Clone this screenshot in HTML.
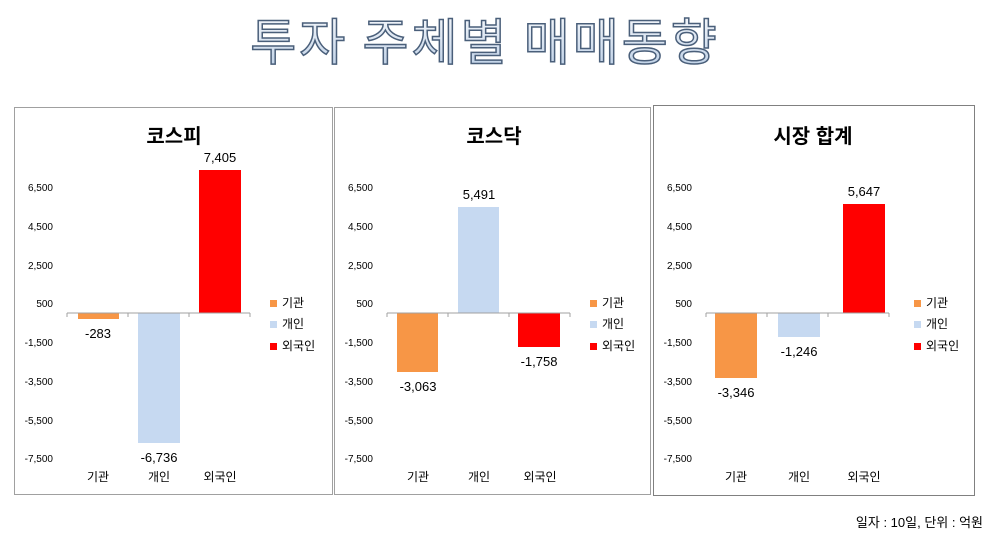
<!DOCTYPE html>
<html><head><meta charset="utf-8"><style>
body{margin:0;width:1000px;height:535px;background:#fff;overflow:hidden;font-family:"Liberation Sans","Noto Sans CJK KR",sans-serif}
</style></head><body>
<svg width="1000" height="535" xmlns="http://www.w3.org/2000/svg" font-family="'Liberation Sans','Noto Sans CJK KR',sans-serif">
<defs><linearGradient id="g" x1="0" y1="0" x2="0" y2="1"><stop offset="0" stop-color="#ffffff"/><stop offset="1" stop-color="#b8cce4"/></linearGradient></defs>
<text x="485" y="60" text-anchor="middle" font-size="50" font-family="'Noto Sans CJK KR',sans-serif" fill="url(#g)" stroke="#4a5f7a" stroke-width="1.5" letter-spacing="3">투자 주체별 매매동향</text>
<g id="p1">
<rect x="14.5" y="107.5" width="318" height="387" fill="none" stroke="#a0a0a0"/>
<text x="174" y="143" text-anchor="middle" font-size="20" font-weight="bold">코스피</text>
<g font-size="10" text-anchor="end" fill="#000">
<text x="53" y="191">6,500</text><text x="53" y="230">4,500</text><text x="53" y="269">2,500</text><text x="53" y="307">500</text><text x="53" y="346">-1,500</text><text x="53" y="385">-3,500</text><text x="53" y="424">-5,500</text><text x="53" y="462">-7,500</text></g>
<rect x="78" y="313" width="41" height="6" fill="#f79646"/>
<rect x="138" y="313" width="42" height="130" fill="#c6d9f1"/>
<rect x="199" y="170" width="42" height="143" fill="#ff0000"/>
<path d="M67 313H250M67 313v4M128 313v4M189 313v4M250 313v4" stroke="#a0a0a0" fill="none"/>
<g font-size="13" text-anchor="middle"><text x="98" y="338">-283</text><text x="159" y="462">-6,736</text><text x="220" y="162">7,405</text></g>
<g font-size="12" text-anchor="middle"><text x="98" y="481">기관</text><text x="159" y="481">개인</text><text x="220" y="481">외국인</text></g>
<g font-size="12"><rect x="270" y="300" width="7" height="7" fill="#f79646"/><text x="282" y="307">기관</text>
<rect x="270" y="321" width="7" height="7" fill="#c6d9f1"/><text x="282" y="328">개인</text>
<rect x="270" y="343" width="7" height="7" fill="#ff0000"/><text x="282" y="350">외국인</text></g>
</g>
<g transform="translate(320,0)">
<rect x="14.5" y="107.5" width="316" height="387" fill="none" stroke="#a0a0a0"/>
<text x="174" y="143" text-anchor="middle" font-size="20" font-weight="bold">코스닥</text>
<g font-size="10" text-anchor="end">
<text x="53" y="191">6,500</text><text x="53" y="230">4,500</text><text x="53" y="269">2,500</text><text x="53" y="307">500</text><text x="53" y="346">-1,500</text><text x="53" y="385">-3,500</text><text x="53" y="424">-5,500</text><text x="53" y="462">-7,500</text></g>
<rect x="77" y="313" width="41" height="59" fill="#f79646"/>
<rect x="138" y="207" width="41" height="106" fill="#c6d9f1"/>
<rect x="198" y="313" width="42" height="34" fill="#ff0000"/>
<path d="M67 313H250M67 313v4M128 313v4M189 313v4M250 313v4" stroke="#a0a0a0" fill="none"/>
<g font-size="13" text-anchor="middle"><text x="98" y="391">-3,063</text><text x="159" y="199">5,491</text><text x="219" y="366">-1,758</text></g>
<g font-size="12" text-anchor="middle"><text x="98" y="481">기관</text><text x="159" y="481">개인</text><text x="220" y="481">외국인</text></g>
<g font-size="12"><rect x="270" y="300" width="7" height="7" fill="#f79646"/><text x="282" y="307">기관</text>
<rect x="270" y="321" width="7" height="7" fill="#c6d9f1"/><text x="282" y="328">개인</text>
<rect x="270" y="343" width="7" height="7" fill="#ff0000"/><text x="282" y="350">외국인</text></g>
</g>
<g transform="translate(639,0)">
<rect x="14.5" y="105.5" width="321" height="390" fill="none" stroke="#808080"/>
<text x="174" y="143" text-anchor="middle" font-size="20" font-weight="bold">시장 합계</text>
<g font-size="10" text-anchor="end">
<text x="53" y="191">6,500</text><text x="53" y="230">4,500</text><text x="53" y="269">2,500</text><text x="53" y="307">500</text><text x="53" y="346">-1,500</text><text x="53" y="385">-3,500</text><text x="53" y="424">-5,500</text><text x="53" y="462">-7,500</text></g>
<rect x="76" y="313" width="42" height="65" fill="#f79646"/>
<rect x="139" y="313" width="42" height="24" fill="#c6d9f1"/>
<rect x="204" y="204" width="42" height="109" fill="#ff0000"/>
<path d="M67 313H250M67 313v4M128 313v4M189 313v4M250 313v4" stroke="#a0a0a0" fill="none"/>
<g font-size="13" text-anchor="middle"><text x="97" y="397">-3,346</text><text x="160" y="356">-1,246</text><text x="225" y="196">5,647</text></g>
<g font-size="12" text-anchor="middle"><text x="97" y="481">기관</text><text x="160" y="481">개인</text><text x="225" y="481">외국인</text></g>
<g font-size="12"><rect x="275" y="300" width="7" height="7" fill="#f79646"/><text x="287" y="307">기관</text>
<rect x="275" y="321" width="7" height="7" fill="#c6d9f1"/><text x="287" y="328">개인</text>
<rect x="275" y="343" width="7" height="7" fill="#ff0000"/><text x="287" y="350">외국인</text></g>
</g>
<text x="983" y="527" text-anchor="end" font-size="13">일자 : 10일, 단위 : 억원</text>
</svg>
</body></html>
